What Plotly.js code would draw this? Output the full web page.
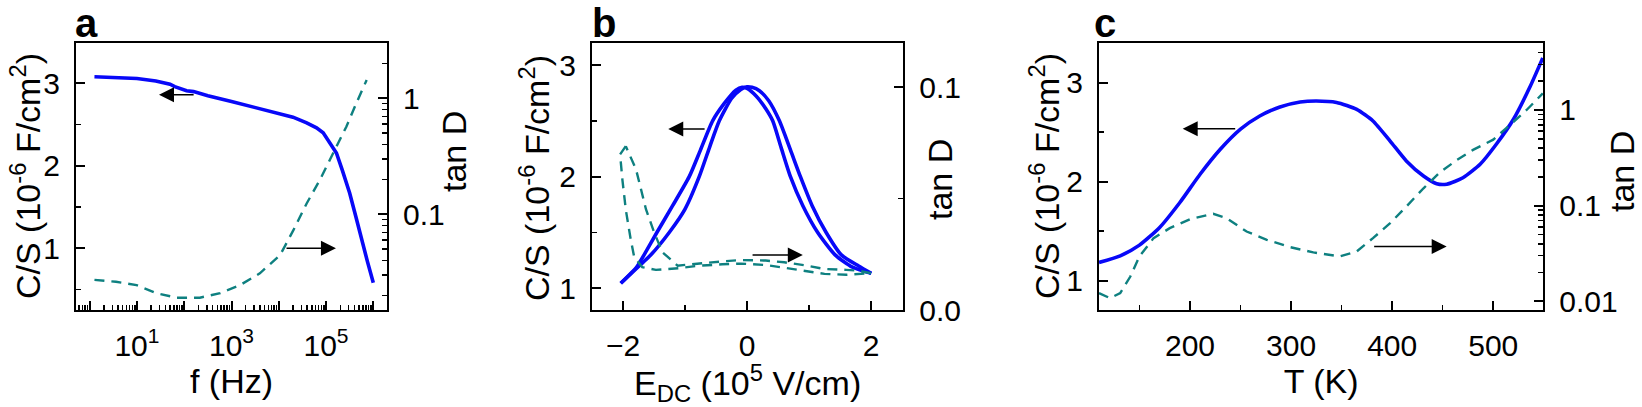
<!DOCTYPE html>
<html>
<head>
<meta charset="utf-8">
<script src="https://cdn.plot.ly/plotly-3.0.1.min.js"></script>
<style>html,body{margin:0;padding:0;background:#fff;}#chart{width:1642px;height:407px;}</style>
</head>
<body>
<div id="chart"></div>
<script>
// ---------- Panel a : C/S and tan D vs frequency ----------
const aFreqC = [1.26, 3.2, 10, 25, 50, 63, 89, 112, 158, 316, 1000, 3160, 10000, 20000, 39000, 63000, 87000, 166000, 220000, 316000, 420000, 560000, 750000, 1000000];
const aCap   = [3.08, 3.075, 3.06, 3.03, 2.99, 2.96, 2.925, 2.91, 2.90, 2.85, 2.78, 2.71, 2.64, 2.59, 2.52, 2.46, 2.40, 2.155, 1.95, 1.67, 1.40, 1.10, 0.84, 0.58];
const aFreqD = [1.26, 3.6, 9.8, 25.7, 69, 214, 575, 1510, 3980, 10700, 20400, 38900, 74100, 141000, 269000, 437000, 724000];
const aTanD  = [0.0272, 0.0262, 0.0245, 0.0209, 0.0191, 0.0191, 0.0209, 0.0245, 0.031, 0.0446, 0.073, 0.124, 0.198, 0.336, 0.569, 0.906, 1.44];

// ---------- Panel b : C/S and tan D vs E_DC (butterfly loops) ----------
const bE1 = [-2.036, -1.78, -1.66, -1.454, -1.2, -0.932, -0.75, -0.555, -0.367, -0.18, -0.08, 0.0, 0.15, 0.3, 0.414, 0.55, 0.70, 0.9, 1.14, 1.42, 1.7, 2.003];
const bC1 = [1.045, 1.19, 1.30, 1.5, 1.74, 2.0, 2.24, 2.5, 2.656, 2.775, 2.80, 2.79, 2.72, 2.61, 2.5, 2.26, 2.0, 1.74, 1.5, 1.30, 1.19, 1.134];
const bE2 = [2.003, 1.8, 1.52, 1.276, 1.05, 0.861, 0.7, 0.522, 0.35, 0.2, 0.08, 0.0, -0.1, -0.25, -0.447, -0.6, -0.771, -1.0, -1.255, -1.55, -1.74, -2.036];
const bC2 = [1.134, 1.20, 1.30, 1.5, 1.74, 2.0, 2.24, 2.5, 2.68, 2.77, 2.80, 2.805, 2.78, 2.70, 2.5, 2.27, 2.0, 1.71, 1.5, 1.30, 1.20, 1.045];
const bEd1 = [-1.955, -2.047, -2.01, -1.955, -1.874, -1.82, -1.69, -1.47, -1.09, -0.8, -0.4, -0.1, 0.3, 0.6, 0.95, 1.25, 1.6, 1.78, 2.0];
const bTd1 = [0.0735, 0.0698, 0.0585, 0.045, 0.0314, 0.0239, 0.0192, 0.018, 0.0188, 0.0198, 0.0205, 0.0208, 0.0202, 0.0189, 0.0175, 0.0162, 0.0158, 0.0160, 0.0165];
const bEd2 = [2.0, 1.78, 1.6, 1.25, 0.95, 0.6, 0.3, -0.1, -0.4, -0.8, -1.12, -1.364, -1.498, -1.63, -1.79, -1.955];
const bTd2 = [0.0165, 0.0177, 0.0180, 0.0184, 0.020, 0.0214, 0.0222, 0.0224, 0.0218, 0.0207, 0.0199, 0.0259, 0.0348, 0.0452, 0.0631, 0.0735];

// ---------- Panel c : C/S and tan D vs temperature ----------
const cTempC = [110, 131, 150, 170, 190, 210, 230, 250, 269, 289, 309, 325, 345, 365, 381, 398, 414, 431, 444, 454, 470, 487, 503, 520, 536, 549];
const cCap   = [1.185, 1.252, 1.36, 1.538, 1.79, 2.075, 2.327, 2.53, 2.663, 2.754, 2.804, 2.815, 2.80, 2.73, 2.613, 2.41, 2.21, 2.058, 1.98, 1.975, 2.04, 2.176, 2.378, 2.63, 2.95, 3.25];
const cTempD = [110, 121, 131, 141, 150, 164, 180, 200, 223, 236, 256, 276, 299, 322, 348, 365, 381, 398, 414, 431, 447, 464, 480, 500, 516, 533, 549];
const cTanD  = [0.0122, 0.0108, 0.0122, 0.0182, 0.0295, 0.0458, 0.0582, 0.0723, 0.0822, 0.074, 0.0537, 0.044, 0.0369, 0.0325, 0.0295, 0.0333, 0.0458, 0.0656, 0.098, 0.152, 0.222, 0.300, 0.383, 0.490, 0.690, 1.0, 1.49];

// ---------- Tick labels ----------
const aXTickVals = [1, 10, 100, 1000, 10000, 100000, 1000000];
const aXTickText = ['', '10<sup>1</sup>', '', '10<sup>3</sup>', '', '10<sup>5</sup>', ''];
const capTickVals = [1, 2, 3];
const aTanTickVals = [0.1, 1];
const aTanTickText = ['0.1', '1'];
const bXTickVals = [-2, 0, 2];
const bTanTickVals = [0, 0.1];
const bTanTickText = ['0.0', '0.1'];
const cXTickVals = [200, 300, 400, 500];
const cTanTickVals = [0.01, 0.1, 1];
const cTanTickText = ['0.01', '0.1', '1'];

const yTitleCap = 'C/S (10<sup>-6</sup> F/cm<sup>2</sup>)';
const yTitleTan = 'tan D';

// ---------- helpers ----------
const FONT = '"Liberation Sans", Arial, Helvetica, sans-serif';
const W = 1642, H = 407;
const BLUE = '#0808f8', TEAL = '#0e8080';
function logMinors(lo, hi) { // minor tick values 2..9 per decade
  const out = [];
  for (let e = lo; e <= hi; e++) for (let m = 2; m <= 9; m++) out.push(m * Math.pow(10, e));
  return out;
}
function minor(vals) {
  return {ticks: 'inside', ticklen: 5, tickwidth: 1.5, tickcolor: '#000', tickmode: 'array', tickvals: vals, showgrid: false};
}
function axis(extra) {
  return Object.assign({
    showline: true, linecolor: '#000', linewidth: 2, ticks: 'inside', ticklen: 9, tickwidth: 2,
    tickcolor: '#000', showgrid: false, zeroline: false, ticklabelstandoff: 8,
    tickfont: {family: FONT, size: 30, color: '#000'}, tickmode: 'array'
  }, extra);
}
const px = v => v / W, py = v => 1 - v / H;
const yDom = [py(310), py(43)];
const titleFont = {family: FONT, size: 34, color: '#000'};
function xTitle(text) { return {text: text, font: titleFont, standoff: 5}; }
const DASH = '10px,7px';

const traces = [
  {x: aFreqC, y: aCap, xaxis: 'x', yaxis: 'y', mode: 'lines', line: {color: BLUE, width: 3.6}},
  {x: aFreqD, y: aTanD, xaxis: 'x', yaxis: 'y2', mode: 'lines', line: {color: TEAL, width: 2.4, dash: DASH}},
  {x: bE1, y: bC1, xaxis: 'x2', yaxis: 'y3', mode: 'lines', line: {color: BLUE, width: 3.6, shape: 'spline', smoothing: 0.6}},
  {x: bE2, y: bC2, xaxis: 'x2', yaxis: 'y3', mode: 'lines', line: {color: BLUE, width: 3.6, shape: 'spline', smoothing: 0.6}},
  {x: bEd1, y: bTd1, xaxis: 'x2', yaxis: 'y4', mode: 'lines', line: {color: TEAL, width: 2.4, dash: DASH}},
  {x: bEd2, y: bTd2, xaxis: 'x2', yaxis: 'y4', mode: 'lines', line: {color: TEAL, width: 2.4, dash: DASH}},
  {x: cTempC, y: cCap, xaxis: 'x3', yaxis: 'y5', mode: 'lines', line: {color: BLUE, width: 3.6, shape: 'spline', smoothing: 0.6}},
  {x: cTempD, y: cTanD, xaxis: 'x3', yaxis: 'y6', mode: 'lines', line: {color: TEAL, width: 2.4, dash: DASH}}
];

function arrow(xref, yref, x0, y0, x1, y1) {
  return {xref: xref, yref: yref, axref: xref, ayref: yref, ax: x0, ay: y0, x: x1, y: y1,
    text: '', showarrow: true, arrowhead: 2, arrowsize: 2, arrowwidth: 1.5, arrowcolor: '#000', standoff: 0, startstandoff: 0};
}
function yTitleAnn(text, xpx, ypx) {
  return {xref: 'paper', yref: 'paper', x: px(xpx), y: py(ypx), text: text, textangle: -90, showarrow: false,
    xanchor: 'center', yanchor: 'middle', font: titleFont};
}
function letter(t, xpx) {
  return {xref: 'paper', yref: 'paper', x: px(xpx), y: 1, text: '<b>' + t + '</b>', showarrow: false,
    xanchor: 'left', yanchor: 'top', borderpad: 0, font: {family: FONT, size: 40, color: '#000'}};
}

const layout = {
  width: W, height: H, margin: {l: 0, r: 0, t: 0, b: 0}, paper_bgcolor: '#fff', plot_bgcolor: '#fff',
  showlegend: false,
  xaxis: axis({domain: [px(76), px(387)], anchor: 'y', type: 'log', range: [-0.29, 6.29], mirror: true,
    tickvals: aXTickVals, ticktext: aXTickText, minor: minor(logMinors(-1, 5)), title: xTitle('f (Hz)')}),
  yaxis: axis({domain: yDom, anchor: 'x', range: [0.25, 3.49], tickvals: capTickVals, minor: minor([0.5, 1.5, 2.5])}),
  yaxis2: axis({overlaying: 'y', side: 'right', anchor: 'x', type: 'log', range: [-1.825, 0.477],
    tickvals: aTanTickVals, ticktext: aTanTickText, minor: minor(logMinors(-2, 0))}),
  xaxis2: axis({domain: [px(592), px(903.3)], anchor: 'y3', range: [-2.5, 2.52], mirror: true,
    tickvals: bXTickVals, minor: minor([-1, 1]), title: xTitle('E<sub>DC</sub> (10<sup>5</sup> V/cm)')}),
  yaxis3: axis({domain: yDom, anchor: 'x2', range: [0.806, 3.197], tickvals: capTickVals, minor: minor([1.5, 2.5])}),
  yaxis4: axis({overlaying: 'y3', side: 'right', anchor: 'x2', range: [0, 0.1198],
    tickvals: bTanTickVals, ticktext: bTanTickText, minor: minor([0.05])}),
  xaxis3: axis({domain: [px(1099), px(1543.3)], anchor: 'y5', range: [110, 549.5], mirror: true,
    tickvals: cXTickVals, minor: minor([150, 250, 350, 450]), title: xTitle('T (K)')}),
  yaxis5: axis({domain: yDom, anchor: 'x3', range: [0.705, 3.40], tickvals: capTickVals, minor: minor([1.5, 2.5])}),
  yaxis6: axis({overlaying: 'y5', side: 'right', anchor: 'x3', type: 'log', range: [-2.09, 0.70],
    tickvals: cTanTickVals, ticktext: cTanTickText, minor: minor(logMinors(-2, 0))}),
  annotations: [
    arrow('x', 'y', 2.23, 2.863, 1.466, 2.863),
    arrow('x', 'y', 4.132, 1.0, 5.21, 1.0),
    arrow('x2', 'y3', -0.66, 2.426, -1.27, 2.426),
    arrow('x2', 'y3', 0.065, 1.298, 0.90, 1.298),
    arrow('x3', 'y5', 246.2, 2.535, 192.8, 2.535),
    arrow('x3', 'y5', 380.7, 1.346, 453.9, 1.346),
    yTitleAnn(yTitleCap, 25, 176),
    yTitleAnn(yTitleTan, 454, 152),
    yTitleAnn(yTitleCap, 535, 178),
    yTitleAnn(yTitleTan, 940, 180),
    yTitleAnn(yTitleCap, 1044, 176),
    yTitleAnn(yTitleTan, 1622, 172),
    letter('a', 74),
    letter('b', 591),
    letter('c', 1093)
  ]
};

Plotly.newPlot('chart', traces, layout, {staticPlot: true, displayModeBar: false});
</script>
</body>
</html>
